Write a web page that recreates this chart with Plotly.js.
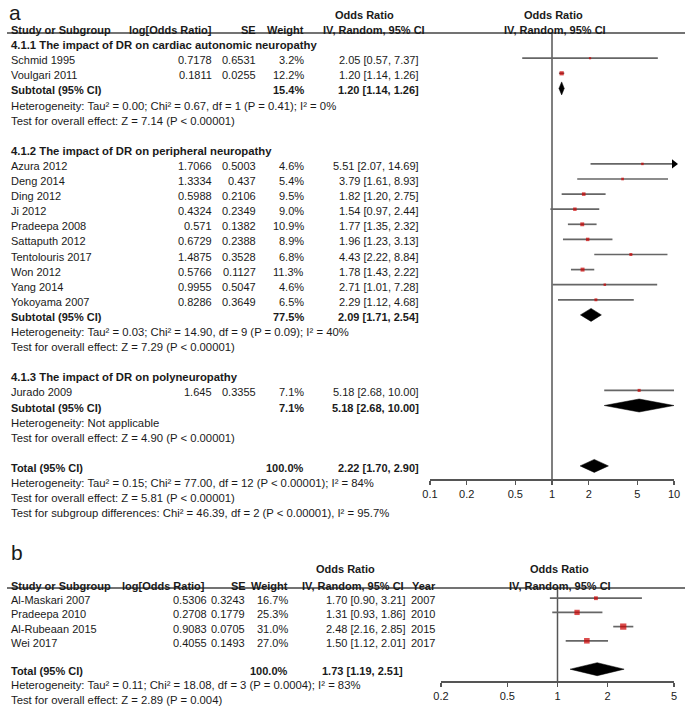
<!DOCTYPE html>
<html><head><meta charset="utf-8">
<script src="https://cdn.plot.ly/plotly-3.0.1.min.js"></script>
<style>html,body{margin:0;padding:0;background:#fff}</style>
</head><body><div id="chart" style="width:685px;height:707px"></div>
<script>
// ---------------- Panel a data ----------------
const studiesA = ["Schmid 1995","Voulgari 2011","Azura 2012","Deng 2014","Ding 2012","Ji 2012","Pradeepa 2008","Sattaputh 2012","Tentolouris 2017","Won 2012","Yang 2014","Yokoyama 2007","Jurado 2009"];
const groupA   = [0,0,1,1,1,1,1,1,1,1,1,1,2];
const logOrA   = [0.7178,0.1811,1.7066,1.3334,0.5988,0.4324,0.571,0.6729,1.4875,0.5766,0.9955,0.8286,1.645];
const seA      = [0.6531,0.0255,0.5003,0.437,0.2106,0.2349,0.1382,0.2388,0.3528,0.1127,0.5047,0.3649,0.3355];
const weightA  = [3.2,12.2,4.6,5.4,9.5,9.0,10.9,8.9,6.8,11.3,4.6,6.5,7.1];
const orA      = [2.05,1.20,5.51,3.79,1.82,1.54,1.77,1.96,4.43,1.78,2.71,2.29,5.18];
const loA      = [0.57,1.14,2.07,1.61,1.20,0.97,1.35,1.23,2.22,1.43,1.01,1.12,2.68];
const hiA      = [7.37,1.26,14.69,8.93,2.75,2.44,2.32,3.13,8.84,2.22,7.28,4.68,10.00];

const subgroupLabels = ["4.1.1 The impact of DR on cardiac autonomic neuropathy","4.1.2 The impact of DR on peripheral neuropathy","4.1.3 The impact of DR on polyneuropathy"];
const subgroupWeight = [15.4,77.5,7.1];
const subgroupOr     = [1.20,2.09,5.18];
const subgroupLo     = [1.14,1.71,2.68];
const subgroupHi     = [1.26,2.54,10.00];
const subgroupHet    = ["Heterogeneity: Tau² = 0.00; Chi² = 0.67, df = 1 (P = 0.41); I² = 0%","Heterogeneity: Tau² = 0.03; Chi² = 14.90, df = 9 (P = 0.09); I² = 40%","Heterogeneity: Not applicable"];
const subgroupTest   = ["Test for overall effect: Z = 7.14 (P < 0.00001)","Test for overall effect: Z = 7.29 (P < 0.00001)","Test for overall effect: Z = 4.90 (P < 0.00001)"];

const totalAWeight = 100.0, totalAOr = 2.22, totalALo = 1.70, totalAHi = 2.90;
const totalANotes = ["Heterogeneity: Tau² = 0.15; Chi² = 77.00, df = 12 (P < 0.00001); I² = 84%","Test for overall effect: Z = 5.81 (P < 0.00001)","Test for subgroup differences: Chi² = 46.39, df = 2 (P < 0.00001), I² = 95.7%"];
const ticksA = [0.1,0.2,0.5,1,2,5,10];

// ---------------- Panel b data ----------------
const studiesB = ["Al-Maskari 2007","Pradeepa 2010","Al-Rubeaan 2015","Wei 2017"];
const logOrB   = [0.5306,0.2708,0.9083,0.4055];
const seB      = [0.3243,0.1779,0.0705,0.1493];
const weightB  = [16.7,25.3,31.0,27.0];
const orB      = [1.70,1.31,2.48,1.50];
const loB      = [0.90,0.93,2.16,1.12];
const hiB      = [3.21,1.86,2.85,2.01];
const yearB    = [2007,2010,2015,2017];
const totalBWeight = 100.0, totalBOr = 1.73, totalBLo = 1.19, totalBHi = 2.51;
const totalBNotes = ["Heterogeneity: Tau² = 0.11; Chi² = 18.08, df = 3 (P = 0.0004); I² = 83%","Test for overall effect: Z = 2.89 (P = 0.004)"];
const ticksB = [0.2,0.5,1,2,5];

// ---------------- Layout helpers ----------------
const W = 685, H = 707;
const FONT = "Liberation Sans, Arial, sans-serif";
const TXT = "#1a1a1a";
const A0 = 28, AH = 15.1;   // panel a: pixel of row 0, row height
const B0 = 584, BH = 14.2;  // panel b
const rowA = p => (p - A0) / AH;
const rowB = p => (p - B0) / BH;
const fx = p => p / W;
const fy = p => 1 - p / H;
const f2 = v => v.toFixed(2);
const ciText = (o,l,h) => f2(o) + " [" + f2(l) + ", " + f2(h) + "]";
const pct = w => w.toFixed(1) + "%";

const ann = [];
function txt(x, y, text, anchor, yref, opts) {
  opts = opts || {};
  ann.push({xref:'paper', x:fx(x), xanchor:anchor, yref:yref, y:y, yanchor:opts.yanchor||'middle',
    text: opts.bold ? '<b>'+text+'</b>' : text, showarrow:false, borderpad:0,
    yshift: opts.yshift !== undefined ? opts.yshift : -2,
    font:{family:FONT, size:opts.size||11, color:opts.color||TXT}});
}
const LONG = 11.3; // long text lines render slightly wider in the reference

const traces = [];
const CI_COLOR = "#666", SQ_COLOR = "#cc0000";

// ---------------- Panel a ----------------
const colA = {name:10, lor:213, se:257, w:305, ci:420};
ann.push({xref:'paper', x:fx(8), xanchor:'left', yref:'paper', y:1, yanchor:'top', text:'a', showarrow:false, borderpad:0,
  font:{family:FONT, size:21, color:TXT}});
txt(364, rowA(15), "Odds Ratio", 'center', 'y', {bold:true, yshift:0});
txt(553, rowA(15), "Odds Ratio", 'center', 'y', {bold:true, yshift:0});
txt(colA.name, 0, "Study or Subgroup", 'left', 'y', {bold:true});
txt(colA.lor, 0, "log[Odds Ratio]", 'right', 'y', {bold:true});
txt(colA.se, 0, "SE", 'right', 'y', {bold:true});
txt(colA.w, 0, "Weight", 'right', 'y', {bold:true});
txt(426, 0, "IV, Random, 95% CI", 'right', 'y', {bold:true});
txt(555, 0, "IV, Random, 95% CI", 'center', 'y', {bold:true});

const xMaxA = ticksA[ticksA.length-1];
let r = 1;
const studyRowA = [], subRowA = [];
for (let g = 0; g < subgroupLabels.length; g++) {
  txt(colA.name, r, subgroupLabels[g], 'left', 'y', {bold:true, size:LONG}); r++;
  studiesA.forEach((s,i) => { if (groupA[i] === g) { studyRowA[i] = r; r++; } });
  subRowA[g] = r; r++;
  txt(colA.name, r, subgroupHet[g], 'left', 'y', {size:LONG}); r++;
  txt(colA.name, r, subgroupTest[g], 'left', 'y', {size:LONG}); r++;
  r++;
}
const totalRowA = r;
txt(colA.name, r, "Total (95% CI)", 'left', 'y', {bold:true});
txt(colA.w, r, pct(totalAWeight), 'right', 'y', {bold:true});
txt(colA.ci, r, ciText(totalAOr,totalALo,totalAHi), 'right', 'y', {bold:true});
totalANotes.forEach((n,k) => txt(colA.name, r+1+k, n, 'left', 'y', {size:LONG}));

studiesA.forEach((s,i) => {
  const y = studyRowA[i];
  txt(colA.name, y, s, 'left', 'y');
  txt(colA.lor, y, String(logOrA[i]), 'right', 'y');
  txt(colA.se, y, String(seA[i]), 'right', 'y');
  txt(colA.w, y, pct(weightA[i]), 'right', 'y');
  txt(colA.ci, y, ciText(orA[i],loA[i],hiA[i]), 'right', 'y');
});
subRowA.forEach((y,g) => {
  txt(colA.name, y, "Subtotal (95% CI)", 'left', 'y', {bold:true});
  txt(colA.w, y, pct(subgroupWeight[g]), 'right', 'y', {bold:true});
  txt(colA.ci, y, ciText(subgroupOr[g],subgroupLo[g],subgroupHi[g]), 'right', 'y', {bold:true});
});

// reference line at OR = 1
traces.push({x:[1,1], y:[rowA(33), rowA(479)], mode:'lines', line:{color:'#555', width:1.5}, xaxis:'x', yaxis:'y', hoverinfo:'skip'});
// CI lines
const ciXA = [], ciYA = [];
studiesA.forEach((s,i) => { ciXA.push(loA[i], Math.min(hiA[i], xMaxA), null); ciYA.push(studyRowA[i], studyRowA[i], null); });
traces.push({x:ciXA, y:ciYA, mode:'lines', line:{color:CI_COLOR, width:1.7}, xaxis:'x', yaxis:'y', hoverinfo:'skip'});
// arrows for CIs beyond axis
const arrX = [], arrY = [];
studiesA.forEach((s,i) => { if (hiA[i] > xMaxA) { arrX.push(xMaxA); arrY.push(studyRowA[i]); } });
traces.push({x:arrX, y:arrY, mode:'markers', marker:{symbol:'triangle-right', size:8, color:'#000'}, cliponaxis:false, xaxis:'x', yaxis:'y', hoverinfo:'skip'});
// squares
traces.push({x:orA, y:studyRowA, mode:'markers', marker:{symbol:'square', color:SQ_COLOR, size:weightA.map(w => 1.5 + 0.22*w), line:{width:0}}, xaxis:'x', yaxis:'y', hoverinfo:'skip'});
// diamonds
const DHA = 6.5 / AH;
function diamond(o,l,h,y,dh,xa,ya){
  traces.push({x:[l,o,h,o,l], y:[y,y-dh,y,y+dh,y], mode:'lines', fill:'toself', fillcolor:'#000', line:{color:'#000', width:0.5}, xaxis:xa, yaxis:ya, hoverinfo:'skip'});
}
subRowA.forEach((y,g) => diamond(subgroupOr[g],subgroupLo[g],subgroupHi[g],y,DHA,'x','y'));
diamond(totalAOr,totalALo,totalAHi,totalRowA,DHA,'x','y');

// ---------------- Panel b ----------------
const colB = {name:10, lor:208, se:246, w:289, ci:407, yr:410};
txt(10, rowB(552), "b", 'left', 'y2', {size:21, yshift:0});
txt(345, rowB(569), "Odds Ratio", 'center', 'y2', {bold:true, yshift:0});
txt(559, rowB(569), "Odds Ratio", 'center', 'y2', {bold:true, yshift:0});
txt(colB.name, 0, "Study or Subgroup", 'left', 'y2', {bold:true});
txt(206, 0, "log[Odds Ratio]", 'right', 'y2', {bold:true});
txt(247, 0, "SE", 'right', 'y2', {bold:true});
txt(colB.w, 0, "Weight", 'right', 'y2', {bold:true});
txt(405, 0, "IV, Random, 95% CI", 'right', 'y2', {bold:true});
txt(411, 0, "Year", 'left', 'y2', {bold:true});
txt(560, 0, "IV, Random, 95% CI", 'center', 'y2', {bold:true});

const studyRowB = studiesB.map((s,i) => i + 1);
studiesB.forEach((s,i) => {
  const y = studyRowB[i];
  txt(colB.name, y, s, 'left', 'y2');
  txt(colB.lor, y, String(logOrB[i]), 'right', 'y2');
  txt(colB.se, y, String(seB[i]), 'right', 'y2');
  txt(colB.w, y, pct(weightB[i]), 'right', 'y2');
  txt(colB.ci, y, ciText(orB[i],loB[i],hiB[i]), 'right', 'y2');
  txt(colB.yr, y, String(yearB[i]), 'left', 'y2');
});
const totalRowB = studiesB.length + 2;
txt(colB.name, totalRowB, "Total (95% CI)", 'left', 'y2', {bold:true});
txt(colB.w, totalRowB, pct(totalBWeight), 'right', 'y2', {bold:true});
txt(colB.ci - 3, totalRowB, ciText(totalBOr,totalBLo,totalBHi), 'right', 'y2', {bold:true});
totalBNotes.forEach((n,k) => txt(colB.name, totalRowB+1+k, n, 'left', 'y2', {size:LONG}));

traces.push({x:[1,1], y:[rowB(588), rowB(681)], mode:'lines', line:{color:'#555', width:1.5}, xaxis:'x2', yaxis:'y2', hoverinfo:'skip'});
const ciXB = [], ciYB = [];
studiesB.forEach((s,i) => { ciXB.push(loB[i], hiB[i], null); ciYB.push(studyRowB[i], studyRowB[i], null); });
traces.push({x:ciXB, y:ciYB, mode:'lines', line:{color:CI_COLOR, width:1.7}, xaxis:'x2', yaxis:'y2', hoverinfo:'skip'});
traces.push({x:orB, y:studyRowB, mode:'markers', marker:{symbol:'square', color:SQ_COLOR, size:weightB.map(w => 1 + 0.17*w), line:{width:0}}, xaxis:'x2', yaxis:'y2', hoverinfo:'skip'});
diamond(totalBOr,totalBLo,totalBHi,totalRowB,6.5/BH,'x2','y2');

// ---------------- Layout ----------------
function logAxis(ticks, dom, posPx){
  return {type:'log', domain:dom, range:[Math.log10(ticks[0]), Math.log10(ticks[ticks.length-1])],
    anchor:'free', position:fy(posPx), showline:true, linecolor:'#555', linewidth:1.5,
    ticks:'outside', ticklen:4, tickwidth:1.5, tickcolor:'#555',
    tickvals:ticks, ticktext:ticks.map(String), tickfont:{family:FONT, size:11, color:TXT},
    showgrid:false, zeroline:false, fixedrange:true};
}
const layout = {
  width:W, height:H, margin:{l:0,r:0,t:0,b:0}, showlegend:false,
  paper_bgcolor:'#fff', plot_bgcolor:'rgba(0,0,0,0)',
  font:{family:FONT, size:11, color:TXT},
  xaxis: logAxis(ticksA, [fx(430), fx(674)], 479),
  xaxis2: logAxis(ticksB, [fx(441), fx(674)], 681),
  yaxis: {domain:[0,1], range:[rowA(H), rowA(0)], visible:false, fixedrange:true, anchor:'x'},
  yaxis2:{domain:[0,1], range:[rowB(H), rowB(0)], visible:false, fixedrange:true, anchor:'x2'},
  shapes:[
    {type:'line', xref:'paper', yref:'paper', x0:fx(7), x1:fx(685), y0:fy(33), y1:fy(33), line:{color:'#444', width:1.5}},
    {type:'line', xref:'paper', yref:'paper', x0:fx(7), x1:fx(685), y0:fy(588), y1:fy(588), line:{color:'#444', width:1.5}}
  ],
  annotations: ann
};
Plotly.newPlot('chart', traces, layout, {staticPlot:true, displayModeBar:false});
</script></body></html>
